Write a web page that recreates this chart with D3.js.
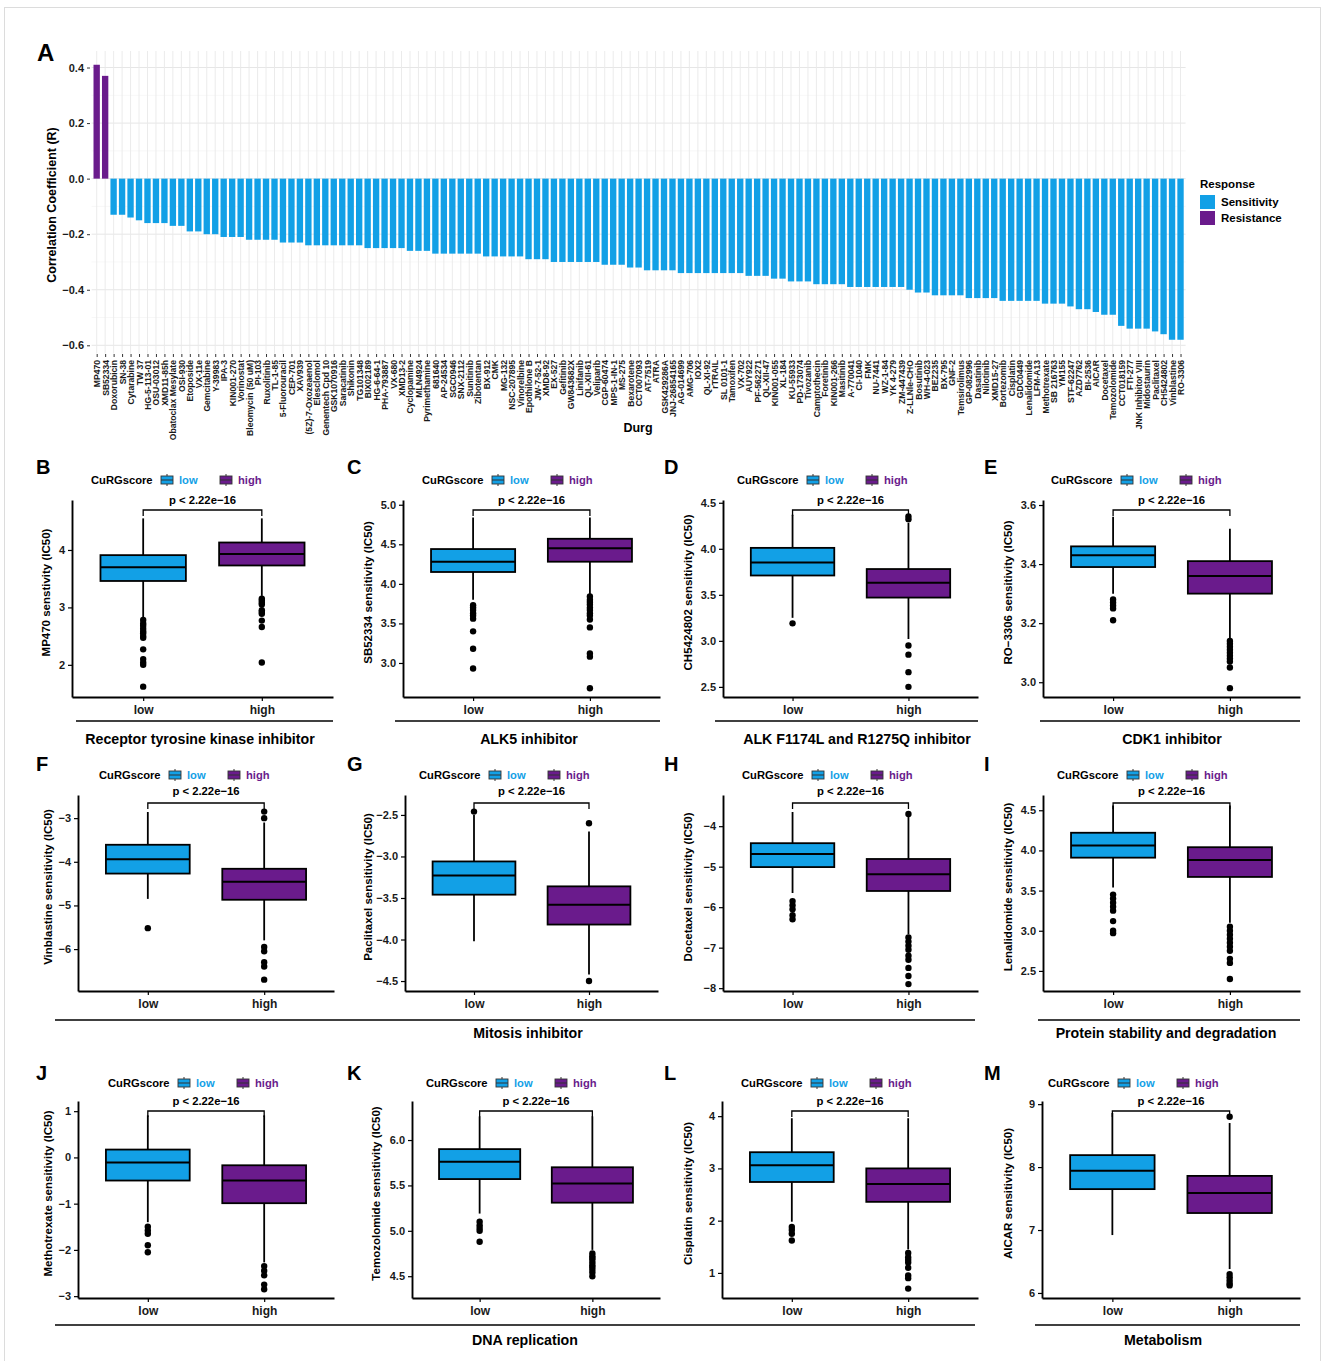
<!DOCTYPE html>
<html>
<head>
<meta charset="utf-8">
<script src="https://cdn.jsdelivr.net/npm/d3@7"></script>
<style>
  body { margin: 0; background: #fff; }
  text { font-family: "Liberation Sans", Arial, sans-serif; font-weight: bold; }
</style>
</head>
<body>
<svg id="fig" width="1326" height="1361"></svg>
<script>
// ---------- panel A data ----------
const drugs = ["MP470","SB52334","Doxorubicin","SN-38","Cytarabine","TW 37","HG-5-113-01","OSU-03012","XMD11-85h","Obatoclax Mesylate","OSI-930","Etoposide","VX-11e","Gemcitabine","Y-39983","IPA-3","KIN001-270","Vorinostat","Bleomycin (50 uM)","PI-103","Ruxolitinib","TL-1-85","5-Fluorouracil","CEP-701","XAV939","(5Z)-7-Oxozeaenol","Elesclomol","Genentech Cpd 10","GSK1070916","Saracatinib","Shikonin","TG101348","BIX02189","HG-6-64-1","PHA-793887","VX-680","XMD13-2","Cyclopamine","MLN4924","Pyrimethamine","681640","AP-24534","SGC0946","SNX-2112","Sunitinib","Zibotentan","BX-912","CMK","MG-132","NSC-207895","Vinorelbine","Epothilone B","JW-7-52-1","XMD8-92","EX-527","Gefitinib","GW843682X","Linifanib","QL-XII-61","Veliparib","CGP-60474","MPS-1-IN-1","MS-275","Bexarotene","CCT007093","AT-7519","ATRA","GSK429286A","JNJ-26854165","AG-014699","AMG-706","IOX2","QL-XI-92","rTRAIL","SL 0101-1","Tamoxifen","VX-702","AUY922","PF-562271","QL-XII-47","KIN001-055","XL-184","KU-55933","PD-173074","Tivozanib","Camptothecin","Foretinib","KIN001-266","Masitinib","A-770041","CI-1040","FMK","NU-7441","WZ-1-84","YK 4-279","ZM-447439","Z-LLNle-CHO","Bosutinib","WH-4-023","BEZ235","BX-795","GNF-2","Temsirolimus","GP-082996","Dasatinib","Nilotinib","XMD15-27","Bortezomib","Cisplatin","GDC0449","Lenalidomide","LFM-A13","Methotrexate","SB 216763","YM155","STF-62247","AZD7762","BI-2536","AICAR","Docetaxel","Temozolomide","CCT018159","FTI-277","JNK Inhibitor VIII","Midostaurin","Paclitaxel","CH5424802","Vinblastine","RO-3306"];

const corr = [0.41,0.37,
  -0.13,-0.13,-0.14,-0.15,-0.16,-0.16,-0.16,-0.17,-0.17,-0.19,-0.19,-0.20,-0.20,-0.21,-0.21,-0.21,
  -0.22,-0.22,-0.22,-0.22,-0.23,-0.23,-0.23,
  -0.24,-0.24,-0.24,-0.24,-0.24,-0.24,-0.24,
  -0.25,-0.25,-0.25,-0.25,-0.25,-0.26,-0.26,-0.26,
  -0.27,-0.27,-0.27,-0.27,-0.27,-0.27,-0.28,-0.28,-0.28,-0.28,-0.28,
  -0.29,-0.29,-0.29,-0.30,-0.30,-0.30,-0.30,-0.30,-0.30,
  -0.31,-0.31,-0.31,-0.32,-0.32,-0.33,-0.33,-0.33,-0.33,
  -0.34,-0.34,-0.34,-0.34,-0.34,-0.34,-0.34,-0.34,-0.35,-0.35,-0.35,
  -0.36,-0.36,-0.37,-0.37,-0.37,-0.38,-0.38,-0.38,-0.38,
  -0.39,-0.39,-0.39,-0.39,-0.39,-0.39,-0.39,-0.40,-0.41,-0.41,
  -0.42,-0.42,-0.42,-0.42,-0.43,-0.43,-0.43,-0.43,
  -0.44,-0.44,-0.44,-0.44,-0.44,-0.45,-0.45,-0.45,-0.46,-0.47,-0.47,-0.48,-0.49,-0.49,
  -0.53,-0.54,-0.54,-0.54,-0.55,-0.56,-0.58,-0.58];

const responses = ["Sensitivity", "Resistance"];
const corrTicks = [0.4, 0.2, 0, -0.2, -0.4, -0.6];
const corrMinor = [0.3, 0.1, -0.1, -0.3, -0.5];

// ---------- box panels data ----------
const groups = ["low", "high"];
const boxLetters = ["B","C","D","E","F","G","H","I","J","K","L","M"];
const boxYTitles = ["MP470 senstivity (IC50)","SB52334 sensitivity (IC50)","CH5424802 sensitivity (IC50)","RO\u22123306 sensitivity (IC50)",
  "Vinblastine sensitivity (IC50)","Paclitaxel sensitivity (IC50)","Docetaxel sensitivity (IC50)","Lenalidomide sensitivity (IC50)",
  "Methotrexate sensitivity (IC50)","Temozolomide sensitivity (IC50)","Cisplatin sensitivity (IC50)","AICAR sensitivity (IC50)"];
const boxTicks = [[2,3,4],[3,3.5,4,4.5,5],[2.5,3,3.5,4,4.5],[3.0,3.2,3.4,3.6],
  [-6,-5,-4,-3],[-4.5,-4,-3.5,-3,-2.5],[-8,-7,-6,-5,-4],[2.5,3,3.5,4,4.5],
  [-3,-2,-1,0,1],[4.5,5,5.5,6],[1,2,3,4],[6,7,8,9]];
const boxTickFormats = ["d",".1f",".1f",".1f","d",".1f","d",".1f","d",".1f","d","d"];
const boxDomains = [[1.44,4.87],[2.57,5.06],[2.39,4.53],[2.95,3.617],
  [-6.96,-2.47],[-4.62,-2.26],[-8.07,-3.23],[2.25,4.69],
  [-3.04,1.22],[4.26,6.43],[0.52,4.29],[5.92,9.05]];
// [lower whisker, q1, median, q3, upper whisker]
const lowStats = [[2.8,3.46,3.70,3.91,4.55],[3.8,4.15,4.28,4.44,4.84],[3.25,3.71,3.85,4.01,4.37],[3.30,3.39,3.43,3.46,3.56],
  [-4.85,-4.27,-3.94,-3.61,-2.86],[-4.02,-3.46,-3.23,-3.06,-2.5],[-5.65,-5.01,-4.69,-4.42,-3.65],[3.54,3.91,4.06,4.22,4.56],
  [-1.4,-0.5,-0.11,0.17,0.91],[5.19,5.57,5.76,5.9,6.26],[1.98,2.74,3.06,3.31,3.96],[6.92,7.65,7.94,8.19,8.86]];
const highStats = [[3.2,3.73,3.93,4.13,4.55],[3.86,4.28,4.45,4.57,4.84],[3.02,3.47,3.63,3.78,4.28],[3.15,3.30,3.36,3.41,3.52],
  [-5.8,-4.87,-4.46,-4.16,-3.1],[-4.42,-3.82,-3.58,-3.36,-2.7],[-6.67,-5.6,-5.19,-4.81,-3.75],[3.1,3.67,3.88,4.04,4.56],
  [-2.27,-0.99,-0.5,-0.17,0.91],[4.79,5.31,5.52,5.7,6.26],[1.45,2.36,2.7,3.0,3.96],[6.38,7.27,7.59,7.86,8.7]];
const lowOutliers = [[2.78,2.72,2.68,2.63,2.58,2.55,2.5,2.47,2.27,2.1,2.04,2.0,1.62],[3.73,3.7,3.67,3.63,3.6,3.56,3.4,3.18,2.93],[3.19],[3.28,3.27,3.26,3.25,3.21],
  [-5.52],[-2.46],[-5.85,-5.95,-6.05,-6.2,-6.3],[3.45,3.4,3.35,3.3,3.25,3.12,3.0,2.97],
  [-1.5,-1.58,-1.65,-1.9,-2.05],[5.1,5.06,5.03,5.0,4.88],[1.88,1.82,1.75,1.62],[]];
const highOutliers = [[3.15,3.12,3.08,3.05,2.95,2.92,2.89,2.77,2.66,2.04],[3.84,3.8,3.77,3.74,3.7,3.67,3.63,3.6,3.55,3.45,3.12,3.08,2.68],[4.35,4.32,2.95,2.85,2.66,2.5],[3.14,3.13,3.12,3.11,3.1,3.09,3.08,3.07,3.05,2.98],
  [-2.85,-3.0,-5.95,-6.05,-6.3,-6.4,-6.7],[-2.6,-4.5],[-3.7,-6.75,-6.85,-6.95,-7.05,-7.2,-7.3,-7.5,-7.7,-7.9],[3.05,3.0,2.95,2.9,2.85,2.8,2.75,2.65,2.6,2.4],
  [-2.35,-2.45,-2.55,-2.75,-2.85],[4.75,4.72,4.7,4.68,4.65,4.62,4.6,4.57,4.54,4.5],[1.38,1.3,1.25,1.2,1.1,0.95,0.9,0.7],[8.8,6.3,6.25,6.2,6.15,6.12]];
const pLabel = "p < 2.22e\u221216";
const groupNames = ["Receptor tyrosine kinase inhibitor","ALK5 inhibitor","ALK F1174L and R1275Q  inhibitor","CDK1 inhibitor",
  "Mitosis inhibitor","Protein stability and degradation","DNA replication","Metabolism"];

// ---------- layout ----------
const blue = "#12a0e6", purple = "#6a1b8c";
const fillOf = { low: blue, high: purple, Sensitivity: blue, Resistance: purple };
const rows = [
  { top: 500, bottom: 697, letter: 474, legend: 480, p: 504, bracket: 510, xlab: 712, line: 721, glab: 744 },
  { top: 795, bottom: 991, letter: 771, legend: 775, p: 795, bracket: 803, xlab: 1008, line: 1020, glab: 1038 },
  { top: 1101, bottom: 1298, letter: 1080, legend: 1083, p: 1105, bracket: 1111, xlab: 1315, line: 1325, glab: 1345 }
];
const panelAxes = [[72,333],[403,660],[723,978],[1043,1300],[78,334],[405,658],[723,978],[1043,1300],[78,334],[412,660],[722,978],[1042,1300]];
const letterX = [36, 347, 664, 984];
const legendX = [91,422,737,1051,99,419,742,1057,108,426,741,1048];
const yTitleX = [50,372,692,1012,52,372,692,1012,52,380,692,1012];
const groupLayout = [[0,76,333,200],[0,395,660,529],[0,715,978,857],[0,1040,1300,1172],
  [1,55,975,528],[1,1038,1300,1166],[2,55,975,525],[2,1035,1300,1163]];

const svg = d3.select("#fig");
svg.append("rect").attr("x", 4.5).attr("y", 7.5).attr("width", 1316).attr("height", 1360)
  .attr("fill", "none").attr("stroke", "#dcdcdc");

// ---------- panel A ----------
function drawPanelA() {
  const x = d3.scalePoint().domain(drugs).range([91.6, 1185.6]).padding(0.6);
  const y = d3.scaleLinear().domain([-0.6295, 0.4595]).range([353.5, 51]);
  const bw = x.step() * 0.75;
  const g = svg.append("g");

  g.selectAll(".minor").data(corrMinor).enter().append("line")
    .attr("x1", 91.6).attr("x2", 1185.6).attr("y1", y).attr("y2", y)
    .attr("stroke", "#f2f2f2").attr("stroke-width", 0.6);
  g.selectAll(".major").data(corrTicks).enter().append("line")
    .attr("x1", 91.6).attr("x2", 1185.6).attr("y1", y).attr("y2", y)
    .attr("stroke", "#e6e6e6").attr("stroke-width", 1);
  g.selectAll(".vgrid").data(drugs).enter().append("line")
    .attr("x1", x).attr("x2", x).attr("y1", 51).attr("y2", 353.5)
    .attr("stroke", "#e9e9e9").attr("stroke-width", 0.9);

  g.selectAll(".bar").data(drugs).enter().append("rect")
    .attr("x", (d) => x(d) - bw / 2)
    .attr("width", bw)
    .attr("y", (d, i) => y(Math.max(0, corr[i])))
    .attr("height", (d, i) => Math.abs(y(corr[i]) - y(0)))
    .attr("fill", (d, i) => fillOf[corr[i] > 0 ? "Resistance" : "Sensitivity"]);

  const ya = g.append("g").attr("transform", "translate(90,0)")
    .call(d3.axisLeft(y).tickValues(corrTicks).tickFormat(d3.format(".1f")).tickSize(3));
  ya.select(".domain").remove();
  ya.selectAll("line").attr("stroke", "#333");
  ya.selectAll("text").attr("font-size", 11).attr("fill", "#1a1a1a");

  const xa = g.append("g").attr("transform", "translate(0,354)")
    .call(d3.axisBottom(x).tickSize(3));
  xa.select(".domain").remove();
  xa.selectAll("line").attr("stroke", "#333");
  xa.selectAll("text")
    .attr("transform", "rotate(-90)")
    .attr("text-anchor", "end")
    .attr("x", -6).attr("y", 0).attr("dy", "0.35em")
    .attr("font-size", 8.6).attr("fill", "#1a1a1a");

  g.append("text").attr("x", 638).attr("y", 432).attr("text-anchor", "middle")
    .attr("font-size", 12.5).text("Durg");
  g.append("text").attr("transform", "translate(56,205) rotate(-90)")
    .attr("text-anchor", "middle").attr("font-size", 12.5).text("Correlation Coefficient (R)");
  g.append("text").attr("x", 37).attr("y", 61).attr("font-size", 24).text("A");

  const lg = g.append("g").attr("transform", "translate(1200,0)");
  lg.append("text").attr("x", 0).attr("y", 188).attr("font-size", 11.5).text("Response");
  responses.forEach((r, i) => {
    lg.append("rect").attr("x", 0).attr("y", 195 + i * 16).attr("width", 15).attr("height", 14)
      .attr("fill", fillOf[r]);
    lg.append("text").attr("x", 21).attr("y", 206 + i * 16).attr("font-size", 11.5).text(r);
  });
}

// ---------- box panels ----------
function drawBoxPanel(i) {
  const row = rows[Math.floor(i / 4)];
  const col = i % 4;
  const [left, right] = panelAxes[i];
  const g = svg.append("g");
  const x = d3.scaleLinear().domain([0.4, 2.6]).range([left, right]);
  const y = d3.scaleLinear().domain(boxDomains[i]).range([row.bottom, row.top]);
  const half = x(1.36) - x(1);

  groups.forEach((grp, k) => {
    const s = grp === "low" ? lowStats[i] : highStats[i];
    const outl = grp === "low" ? lowOutliers[i] : highOutliers[i];
    const cx = x(k + 1);
    const bg = g.append("g");
    bg.append("line").attr("x1", cx).attr("x2", cx).attr("y1", y(s[4])).attr("y2", y(s[3]))
      .attr("stroke", "#000").attr("stroke-width", 1.8);
    bg.append("line").attr("x1", cx).attr("x2", cx).attr("y1", y(s[1])).attr("y2", y(s[0]))
      .attr("stroke", "#000").attr("stroke-width", 1.8);
    bg.append("rect").attr("x", cx - half).attr("width", half * 2)
      .attr("y", y(s[3])).attr("height", y(s[1]) - y(s[3]))
      .attr("fill", fillOf[grp]).attr("stroke", "#000").attr("stroke-width", 1.8);
    bg.append("line").attr("x1", cx - half).attr("x2", cx + half).attr("y1", y(s[2])).attr("y2", y(s[2]))
      .attr("stroke", "#000").attr("stroke-width", 2);
    bg.selectAll("circle").data(outl).enter().append("circle")
      .attr("cx", cx).attr("cy", y).attr("r", 3.2).attr("fill", "#000");
  });

  // axes
  const ya = g.append("g").attr("transform", `translate(${left},0)`)
    .call(d3.axisLeft(y).tickValues(boxTicks[i]).tickFormat(d3.format(boxTickFormats[i])).tickSize(4).tickSizeOuter(0));
  ya.select(".domain").attr("stroke-width", 1.9);
  ya.selectAll(".tick line").attr("stroke-width", 1.2);
  ya.selectAll("text").attr("font-size", 11).attr("fill", "#1a1a1a");
  const xa = g.append("g").attr("transform", `translate(0,${row.bottom})`)
    .call(d3.axisBottom(x).tickValues([1, 2]).tickFormat((d) => groups[d - 1]).tickSize(4).tickSizeOuter(0));
  xa.select(".domain").attr("stroke-width", 1.9);
  xa.selectAll(".tick line").attr("stroke-width", 1.2);
  xa.selectAll("text").attr("font-size", 12).attr("fill", "#1a1a1a").attr("y", 8);

  g.append("text").attr("transform", `translate(${yTitleX[i]},${(row.top + row.bottom) / 2 - 6}) rotate(-90)`)
    .attr("text-anchor", "middle").attr("font-size", 11.5).text(boxYTitles[i]);
  g.append("text").attr("x", letterX[col]).attr("y", row.letter).attr("font-size", 20).text(boxLetters[i]);

  // p bracket
  const x1 = x(1), x2 = x(2);
  g.append("path")
    .attr("d", `M${x1},${row.bracket + 6}V${row.bracket}H${x2}V${row.bracket + 6}`)
    .attr("fill", "none").attr("stroke", "#000").attr("stroke-width", 1.3);
  g.append("text").attr("x", (x1 + x2) / 2).attr("y", row.p).attr("text-anchor", "middle")
    .attr("font-size", 11.3).text(pLabel);

  // legend
  const lg = g.append("g").attr("transform", `translate(${legendX[i]},${row.legend})`);
  lg.append("text").attr("x", 0).attr("y", 4).attr("font-size", 11.2).text("CuRGscore");
  const keyX = [70, 129];
  groups.forEach((grp, k) => {
    const kx = keyX[k];
    lg.append("line").attr("x1", kx + 6).attr("x2", kx + 6).attr("y1", -6).attr("y2", 6)
      .attr("stroke", "#333").attr("stroke-width", 1);
    lg.append("rect").attr("x", kx).attr("y", -4).attr("width", 12).attr("height", 8)
      .attr("fill", fillOf[grp]).attr("stroke", "#333").attr("stroke-width", 0.9);
    lg.append("line").attr("x1", kx).attr("x2", kx + 12).attr("y1", 0).attr("y2", 0)
      .attr("stroke", "#333").attr("stroke-width", 1);
    lg.append("text").attr("x", kx + 18).attr("y", 4).attr("font-size", 11.2)
      .attr("fill", fillOf[grp]).text(grp);
  });
}

function drawGroups() {
  groupLayout.forEach(([r, a, b, cx], k) => {
    const row = rows[r];
    svg.append("line").attr("x1", a).attr("x2", b).attr("y1", row.line).attr("y2", row.line)
      .attr("stroke", "#000").attr("stroke-width", 1.6);
    svg.append("text").attr("x", cx).attr("y", row.glab).attr("text-anchor", "middle")
      .attr("font-size", 14.2).text(groupNames[k]);
  });
}

drawPanelA();
boxLetters.forEach((d, i) => drawBoxPanel(i));
drawGroups();
</script>
</body>
</html>
